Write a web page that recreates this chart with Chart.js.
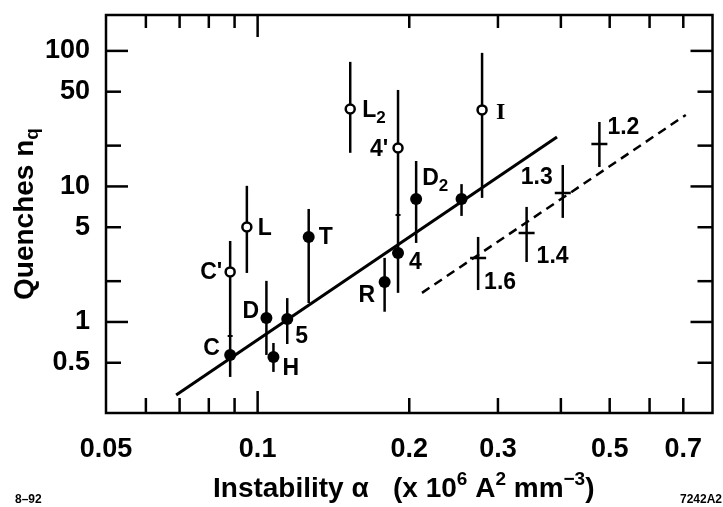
<!DOCTYPE html>
<html>
<head>
<meta charset="utf-8">
<script src="https://cdn.jsdelivr.net/npm/chart.js@4.4.0/dist/chart.umd.min.js"></script>
<style>
  html, body { margin: 0; padding: 0; background: #fff; }
</style>
</head>
<body>
<canvas id="chart" width="723" height="507"></canvas>
<script>
// filled circles
const filledNames = ["C", "D", "H", "5", "T", "R", "4", "D", ""];
const filledSubs = ["", "", "", "", "", "", "", "2", ""];
const filledX = [0.0882, 0.1041, 0.1075, 0.1145, 0.1263, 0.1787, 0.190, 0.2064, 0.254];
const filledY = [0.571, 1.07, 0.552, 1.05, 4.24, 1.97, 3.23, 8.09, 8.09];
const filledLow = [0.393, 0.571, 0.428, 0.688, 1.38, 1.19, 1.64, 3.83, 6.06];
const filledHigh = [0.788, 2.01, 0.70, 1.50, 6.82, 2.97, 3.23, 15.4, 10.4];

// open circles
const openNames = ["C'", "L", "L", "4'", "I"];
const openSubs = ["", "", "2", "", ""];
const openX = [0.0882, 0.0952, 0.1527, 0.190, 0.279];
const openY = [2.34, 5.02, 37.3, 19.2, 36.7];
const openLow = [0.788, 2.30, 17.7, 3.23, 8.23];
const openHigh = [3.96, 10.1, 83, 51.5, 96.7];

// crosses (dashed fit)
const crossNames = ["1.6", "1.4", "1.3", "1.2"];
const crossX = [0.274, 0.342, 0.4035, 0.477];
const crossY = [2.97, 4.54, 8.96, 20.6];
const crossLow = [1.72, 2.77, 5.86, 13.9];
const crossHigh = [4.24, 7.06, 14.4, 29.9];

// fit lines
const fitX = [0.0689, 0.393];
const fitY = [0.289, 23.2];
const dashX = [0.212, 0.708];
const dashY = [1.64, 33.7];

// little marks on the long bars
const markX = [0.0882, 0.190];
const markY = [0.788, 6.16];

const xTickLabels = [0.05, 0.1, 0.2, 0.3, 0.5, 0.7];
const xMinorTicks = [0.06, 0.07, 0.08, 0.09, 0.2, 0.3, 0.4, 0.5, 0.6, 0.7];
const xMajorTicks = [0.1];
const yTickLabels = [0.5, 1, 5, 10, 50, 100];
const yMinorTicks = [0.5, 2, 5, 20, 50];
const yMajorTicks = [1, 10, 100];

// label offsets in px (left edge, vertical centre) from the point
const filledOffsets = [[-27, -6], [-24, -6], [9, 12], [8, 18], [10, 1], [-26, 14], [11, 10], [6, -20], [0, 0]];
const openOffsets = [[-30, 1], [11, 2], [12, 2], [-28, 2], [14, 3]];
const crossOffsets = [[6, 25], [10, 24], [-42, -15], [8, -16]];

const FONT = '"Liberation Sans", Arial, Helvetica, sans-serif';

const toPoints = (xs, ys) => xs.map((v, i) => ({x: v, y: ys[i]}));

const errorBars = {
    id: 'errorBars',
    beforeDatasetsDraw(chart) {
        const {ctx, scales: {x, y}} = chart;
        ctx.save();
        ctx.strokeStyle = '#000';
        ctx.lineWidth = 2.5;
        chart.data.datasets.forEach(ds => {
            if (!ds.errLow) return;
            ds.data.forEach((p, i) => {
                const px = x.getPixelForValue(p.x);
                ctx.beginPath();
                ctx.moveTo(px, y.getPixelForValue(ds.errLow[i]));
                ctx.lineTo(px, y.getPixelForValue(ds.errHigh[i]));
                ctx.stroke();
            });
        });
        ctx.lineWidth = 2;
        markX.forEach((v, i) => {
            const px = x.getPixelForValue(v), py = y.getPixelForValue(markY[i]);
            ctx.beginPath();
            ctx.moveTo(px - 2.5, py);
            ctx.lineTo(px + 2.5, py);
            ctx.stroke();
        });
        ctx.restore();
    },
    afterDatasetsDraw(chart) {
        const {ctx, scales: {x, y}} = chart;
        ctx.save();
        ctx.fillStyle = '#000';
        ctx.textBaseline = 'middle';
        chart.data.datasets.forEach(ds => {
            if (!ds.names) return;
            ds.data.forEach((p, i) => {
                const name = ds.names[i];
                if (!name) return;
                let px = x.getPixelForValue(p.x) + ds.offsets[i][0];
                const py = y.getPixelForValue(p.y) + ds.offsets[i][1];
                ctx.font = (name === "I" ? 'bold 24px "Liberation Serif", serif' : 'bold 23px ' + FONT);
                ctx.fillText(name, px, py);
                const sub = ds.subs ? ds.subs[i] : "";
                if (sub) {
                    px += ctx.measureText(name).width;
                    ctx.font = 'bold 17px ' + FONT;
                    ctx.fillText(sub, px, py + 7);
                }
            });
        });
        ctx.restore();
    }
};

const frame = {
    id: 'frame',
    afterDraw(chart) {
        const {ctx, chartArea: a, scales: {x, y}} = chart;
        ctx.save();
        ctx.strokeStyle = '#000';
        ctx.lineWidth = 2.5;
        ctx.strokeRect(a.left, a.top, a.right - a.left, a.bottom - a.top);
        const seg = (x1, y1, x2, y2) => {
            ctx.beginPath();
            ctx.moveTo(x1, y1);
            ctx.lineTo(x2, y2);
            ctx.stroke();
        };
        xMinorTicks.forEach(v => {
            const px = x.getPixelForValue(v);
            seg(px, a.bottom, px, a.bottom - 15);
            seg(px, a.top, px, a.top + 13);
        });
        xMajorTicks.forEach(v => {
            const px = x.getPixelForValue(v);
            seg(px, a.bottom, px, a.bottom - 22);
            seg(px, a.top, px, a.top + 22);
        });
        yMinorTicks.forEach(v => {
            const py = y.getPixelForValue(v);
            seg(a.left, py, a.left + 15, py);
            seg(a.right, py, a.right - 15, py);
        });
        yMajorTicks.forEach(v => {
            const py = y.getPixelForValue(v);
            seg(a.left, py, a.left + 22, py);
            seg(a.right, py, a.right - 22, py);
        });

        // axis titles
        ctx.fillStyle = '#000';
        ctx.textBaseline = 'alphabetic';
        const big = 'bold 28px ' + FONT, small = 'bold 19px ' + FONT;
        const parts = (list, x0, y0) => {
            let cx = x0;
            list.forEach(([t, f, dy]) => {
                ctx.font = f;
                ctx.fillText(t, cx, y0 + dy);
                cx += ctx.measureText(t).width;
            });
        };
        parts([["Instability \u03b1", big, 0]], 213, 497);
        parts([["(x 10", big, 0], ["6", small, -12], [" A", big, 0], ["2", small, -12],
               [" mm", big, 0], ["\u22123", small, -12], [")", big, 0]], 393, 497);

        ctx.save();
        ctx.translate(33, 214);
        ctx.rotate(-Math.PI / 2);
        ctx.font = big;
        const w1 = ctx.measureText("Quenches n").width;
        ctx.font = small;
        const w2 = ctx.measureText("q").width;
        parts([["Quenches n", big, 0], ["q", small, 5]], -(w1 + w2) / 2, 0);
        ctx.restore();

        ctx.font = 'bold 12px ' + FONT;
        ctx.fillText("8\u201392", 15, 503);
        ctx.textAlign = 'right';
        ctx.fillText("7242A2", 722, 503);
        ctx.restore();
    }
};

new Chart(document.getElementById('chart'), {
    type: 'scatter',
    data: {
        datasets: [
            {
                data: toPoints(fitX, fitY), showLine: true, pointRadius: 0,
                borderColor: '#000', borderWidth: 3
            },
            {
                data: toPoints(dashX, dashY), showLine: true, pointRadius: 0,
                borderColor: '#000', borderWidth: 2.5, borderDash: [9, 6]
            },
            {
                data: toPoints(crossX, crossY), pointStyle: 'line', pointRadius: 8,
                borderColor: '#000', borderWidth: 2.5,
                errLow: crossLow, errHigh: crossHigh, names: crossNames, offsets: crossOffsets
            },
            {
                data: toPoints(filledX, filledY), pointStyle: 'circle', pointRadius: 6,
                backgroundColor: '#000', borderColor: '#000', borderWidth: 0,
                errLow: filledLow, errHigh: filledHigh, names: filledNames, subs: filledSubs, offsets: filledOffsets
            },
            {
                data: toPoints(openX, openY), pointStyle: 'circle', pointRadius: 4.5,
                backgroundColor: '#fff', borderColor: '#000', borderWidth: 2.5,
                errLow: openLow, errHigh: openHigh, names: openNames, subs: openSubs, offsets: openOffsets
            }
        ]
    },
    options: {
        responsive: false,
        animation: false,
        devicePixelRatio: 1,
        layout: {padding: {top: 15, right: 1, left: 0, bottom: 0}},
        plugins: {legend: {display: false}, tooltip: {enabled: false}},
        scales: {
            x: {
                type: 'logarithmic', min: 0.05, max: 0.8,
                grid: {display: false, drawTicks: false}, border: {display: false},
                afterBuildTicks: s => { s.ticks = xTickLabels.map(v => ({value: v})); },
                afterFit: s => { s.height = 94; s.paddingLeft = 0; s.paddingRight = 0; },
                ticks: {
                    color: '#000', padding: 20, maxRotation: 0, autoSkip: false,
                    font: {family: FONT, size: 27, weight: 'bold'},
                    callback: v => String(v)
                }
            },
            y: {
                type: 'logarithmic', min: 0.213, max: 184,
                grid: {display: false, drawTicks: false}, border: {display: false},
                afterBuildTicks: s => { s.ticks = yTickLabels.map(v => ({value: v})); },
                afterFit: s => { s.width = 106; s.paddingTop = 0; s.paddingBottom = 0; },
                ticks: {
                    color: '#000', padding: 16, autoSkip: false,
                    font: {family: FONT, size: 27, weight: 'bold'},
                    callback: v => String(v)
                }
            }
        }
    },
    plugins: [errorBars, frame]
});
</script>
</body>
</html>
